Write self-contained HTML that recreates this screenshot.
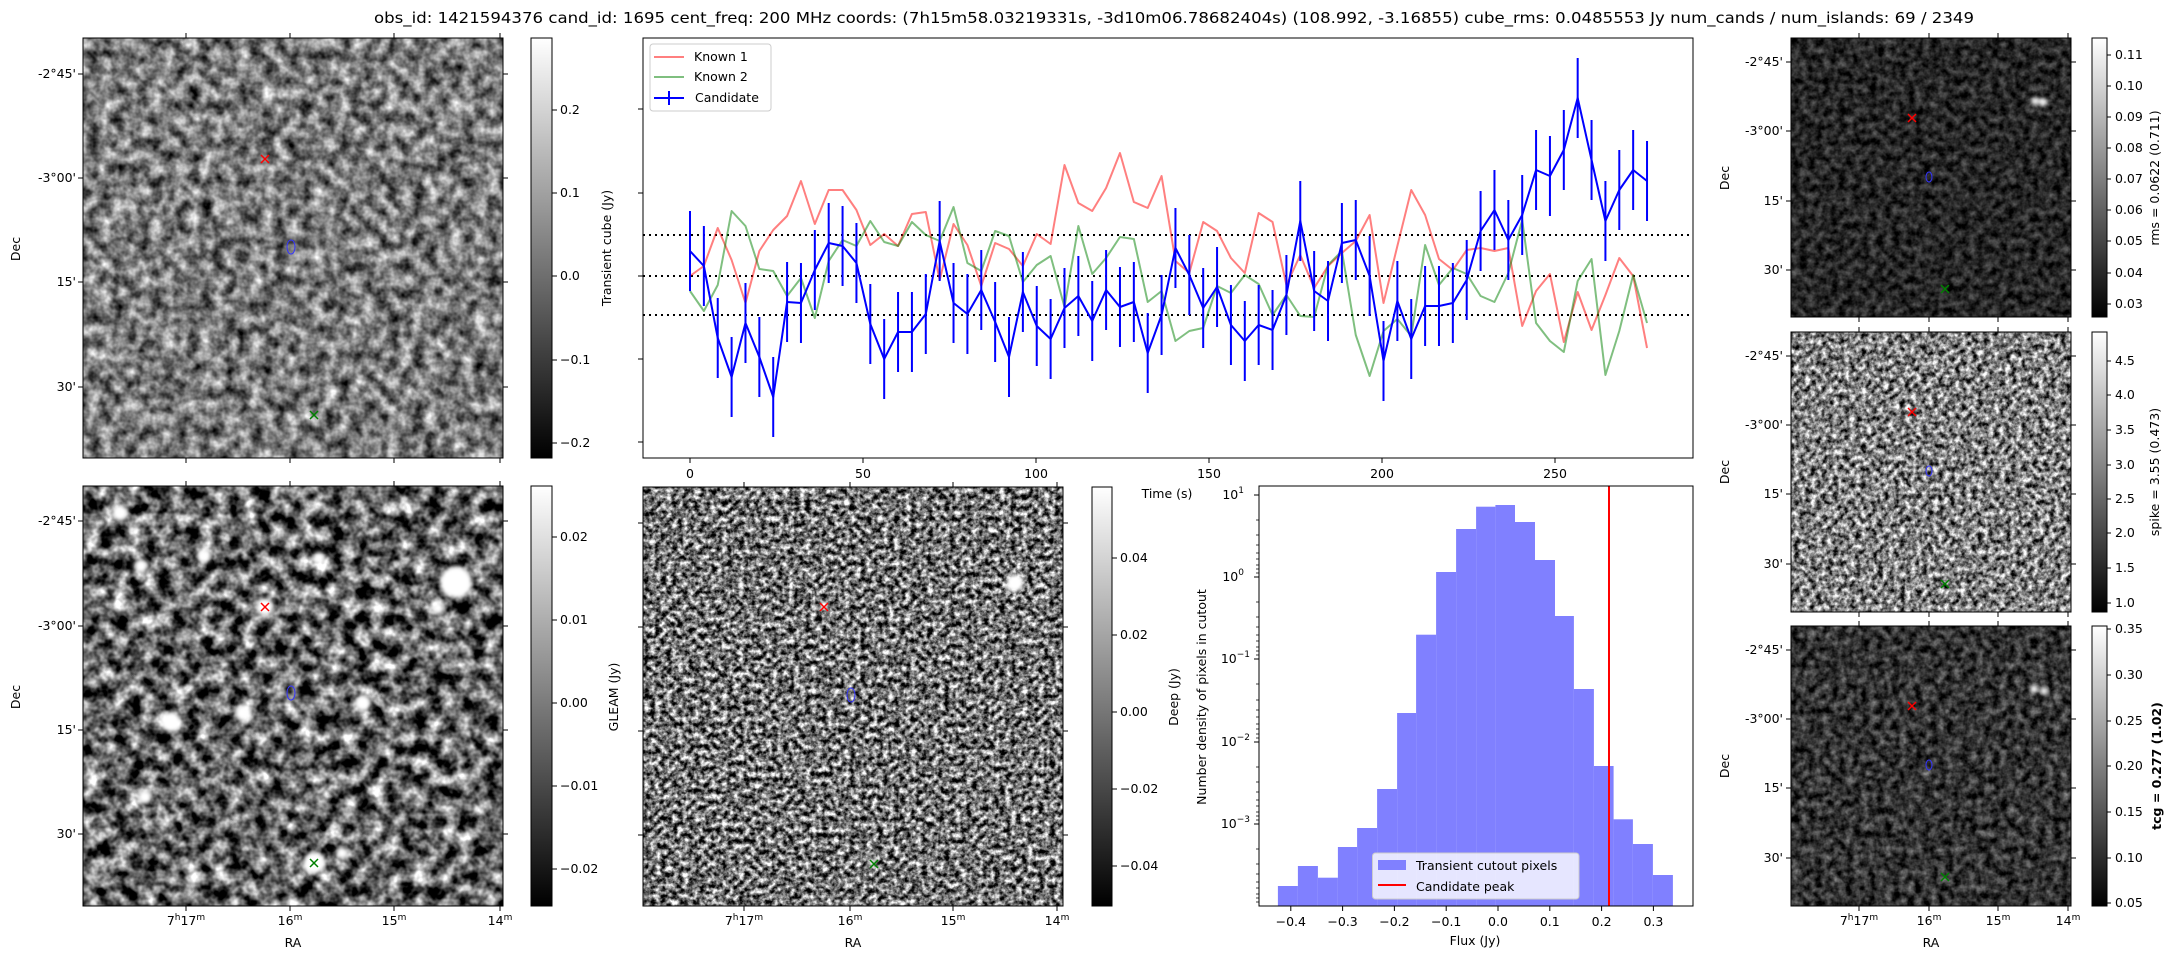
<!DOCTYPE html>
<html><head><meta charset="utf-8"><style>
html,body{margin:0;padding:0;background:#fff}
svg{display:block}
text{font-family:"DejaVu Sans","Liberation Sans",sans-serif;font-size:12.5px;fill:#000}
</style></head><body>
<svg width="2175" height="960" viewBox="0 0 2175 960" xmlns="http://www.w3.org/2000/svg">
<defs>
<filter id="n1" x="0" y="0" width="100%" height="100%" color-interpolation-filters="sRGB"><feTurbulence type="fractalNoise" baseFrequency="0.08" numOctaves="3" seed="3"/><feColorMatrix type="matrix" values="1.3 0 0 0 -0.17 1.3 0 0 0 -0.17 1.3 0 0 0 -0.17 0 0 0 0 1"/></filter>
<filter id="n2" x="0" y="0" width="100%" height="100%" color-interpolation-filters="sRGB"><feTurbulence type="fractalNoise" baseFrequency="0.07" numOctaves="3" seed="7"/><feColorMatrix type="matrix" values="2.0 0 0 0 -0.6 2.0 0 0 0 -0.6 2.0 0 0 0 -0.6 0 0 0 0 1"/></filter>
<filter id="n3" x="0" y="0" width="100%" height="100%" color-interpolation-filters="sRGB"><feTurbulence type="fractalNoise" baseFrequency="0.18" numOctaves="3" seed="11"/><feColorMatrix type="matrix" values="2.0 0 0 0 -0.55 2.0 0 0 0 -0.55 2.0 0 0 0 -0.55 0 0 0 0 1"/></filter>
<filter id="n4" x="0" y="0" width="100%" height="100%" color-interpolation-filters="sRGB"><feTurbulence type="fractalNoise" baseFrequency="0.13" numOctaves="3" seed="5"/><feColorMatrix type="matrix" values="0.6 0 0 0 -0.15 0.6 0 0 0 -0.15 0.6 0 0 0 -0.15 0 0 0 0 1"/></filter>
<filter id="n5" x="0" y="0" width="100%" height="100%" color-interpolation-filters="sRGB"><feTurbulence type="fractalNoise" baseFrequency="0.18" numOctaves="3" seed="9"/><feColorMatrix type="matrix" values="1.8 0 0 0 -0.4 1.8 0 0 0 -0.4 1.8 0 0 0 -0.4 0 0 0 0 1"/></filter>
<filter id="n6" x="0" y="0" width="100%" height="100%" color-interpolation-filters="sRGB"><feTurbulence type="fractalNoise" baseFrequency="0.13" numOctaves="3" seed="13"/><feColorMatrix type="matrix" values="0.8 0 0 0 -0.2 0.8 0 0 0 -0.2 0.8 0 0 0 -0.2 0 0 0 0 1"/></filter>
<filter id="bl" x="-1" y="-1" width="3" height="3"><feGaussianBlur stdDeviation="2"/></filter>
<linearGradient id="cb" x1="0" y1="1" x2="0" y2="0"><stop offset="0" stop-color="#000"/><stop offset="1" stop-color="#fff"/></linearGradient>
</defs>

<text x="1174" y="23" text-anchor="middle" style="font-size:15px" textLength="1600" lengthAdjust="spacingAndGlyphs">obs_id: 1421594376 cand_id: 1695 cent_freq: 200 MHz coords: (7h15m58.03219331s, -3d10m06.78682404s) (108.992, -3.16855) cube_rms: 0.0485553 Jy num_cands / num_islands: 69 / 2349</text>

<!-- TOP LEFT IMAGE -->
<rect x="83" y="38" width="420" height="420" filter="url(#n1)"/>
<rect x="83" y="38" width="420" height="420" fill="none" stroke="#000"/>
<g stroke="#000"><path d="M186,38v-5M290,38v-5M394,38v-5M500,38v-5M186,458v5M290,458v5M394,458v5M500,458v5M83,74h-5M83,178h-5M83,282h-5M83,387h-5M503,74h5M503,178h5M503,282h5M503,387h5"/></g>
<g text-anchor="end"><text x="76" y="78">-2°45'</text><text x="76" y="182">-3°00'</text><text x="76" y="286">15'</text><text x="76" y="391">30'</text></g>
<text transform="translate(20,249) rotate(-90)" text-anchor="middle">Dec</text>
<g stroke="red" stroke-width="1.5"><path d="M261,155l8,8M269,155l-8,8"/></g>
<ellipse cx="291" cy="247" rx="4" ry="7" fill="none" stroke="#33f"/>
<g stroke="green" stroke-width="1.5"><path d="M310,411l8,8M318,411l-8,8"/></g>
<rect x="531" y="38" width="21" height="420" fill="url(#cb)" stroke="#000"/>
<g stroke="#000"><path d="M552,110h5M552,193h5M552,276h5M552,360h5M552,443h5"/></g>
<g><text x="560" y="114">0.2</text><text x="560" y="197">0.1</text><text x="560" y="280">0.0</text><text x="560" y="364">−0.1</text><text x="560" y="447">−0.2</text></g>
<text transform="translate(611,248) rotate(-90)" text-anchor="middle">Transient cube (Jy)</text>

<!-- BOTTOM LEFT IMAGE -->
<rect x="83" y="486" width="420" height="420" filter="url(#n2)"/>
<g fill="#fff" filter="url(#bl)">
<circle cx="456" cy="582" r="16"/><circle cx="265" cy="607" r="9"/><circle cx="314" cy="863" r="11"/><circle cx="171" cy="722" r="10"/><circle cx="243" cy="713" r="8"/><circle cx="145" cy="797" r="7"/><circle cx="204" cy="556" r="7"/><circle cx="141" cy="566" r="7"/><circle cx="319" cy="558" r="6"/><circle cx="120" cy="513" r="8"/><circle cx="438" cy="608" r="6"/><circle cx="363" cy="703" r="8"/><circle cx="342" cy="853" r="6"/></g>
<rect x="83" y="486" width="420" height="420" fill="none" stroke="#000"/>
<g stroke="#000"><path d="M186,486v-5M290,486v-5M394,486v-5M500,486v-5M186,906v5M290,906v5M394,906v5M500,906v5M83,521h-5M83,626h-5M83,730h-5M83,834h-5M503,521h5M503,626h5M503,730h5M503,834h5"/></g>
<g text-anchor="end"><text x="76" y="525">-2°45'</text><text x="76" y="630">-3°00'</text><text x="76" y="734">15'</text><text x="76" y="838">30'</text></g>
<text transform="translate(20,697) rotate(-90)" text-anchor="middle">Dec</text>
<g text-anchor="middle"><text x="186" y="925">7<tspan dy="-5" style="font-size:9px">h</tspan><tspan dy="5">17</tspan><tspan dy="-5" style="font-size:9px">m</tspan></text><text x="290" y="925">16<tspan dy="-5" style="font-size:9px">m</tspan></text><text x="394" y="925">15<tspan dy="-5" style="font-size:9px">m</tspan></text><text x="500" y="925">14<tspan dy="-5" style="font-size:9px">m</tspan></text><text x="293" y="947">RA</text></g>
<g stroke="red" stroke-width="1.5"><path d="M261,603l8,8M269,603l-8,8"/></g>
<ellipse cx="291" cy="693" rx="4" ry="7" fill="none" stroke="#33f"/>
<g stroke="green" stroke-width="1.5"><path d="M310,859l8,8M318,859l-8,8"/></g>
<rect x="531" y="486" width="21" height="420" fill="url(#cb)" stroke="#000"/>
<g stroke="#000"><path d="M552,537h5M552,620h5M552,703h5M552,786h5M552,869h5"/></g>
<g><text x="560" y="541">0.02</text><text x="560" y="624">0.01</text><text x="560" y="707">0.00</text><text x="560" y="790">−0.01</text><text x="560" y="873">−0.02</text></g>
<text transform="translate(618,697) rotate(-90)" text-anchor="middle">GLEAM (Jy)</text>

<!-- MIDDLE IMAGE -->
<rect x="643" y="487" width="420" height="419" filter="url(#n3)"/>
<g fill="#fff" filter="url(#bl)"><circle cx="1015" cy="583" r="9"/><circle cx="824" cy="605" r="4"/><circle cx="872" cy="862" r="4"/></g>
<rect x="643" y="487" width="420" height="419" fill="none" stroke="#000"/>
<g stroke="#000"><path d="M744,487v-5M850,487v-5M953,487v-5M1057,487v-5M744,906v5M850,906v5M953,906v5M1057,906v5M643,523h-5M643,627h-5M643,731h-5M643,835h-5M1063,523h5M1063,627h5M1063,731h5M1063,835h5"/></g>
<g text-anchor="middle"><text x="744" y="925">7<tspan dy="-5" style="font-size:9px">h</tspan><tspan dy="5">17</tspan><tspan dy="-5" style="font-size:9px">m</tspan></text><text x="850" y="925">16<tspan dy="-5" style="font-size:9px">m</tspan></text><text x="953" y="925">15<tspan dy="-5" style="font-size:9px">m</tspan></text><text x="1057" y="925">14<tspan dy="-5" style="font-size:9px">m</tspan></text><text x="853" y="947">RA</text></g>
<g stroke="red" stroke-width="1.5"><path d="M820,603l8,8M828,603l-8,8"/></g>
<ellipse cx="851" cy="695" rx="4" ry="7" fill="none" stroke="#33f"/>
<g stroke="green" stroke-width="1.5"><path d="M870,860l8,8M878,860l-8,8"/></g>
<rect x="1092" y="487" width="20" height="419" fill="url(#cb)" stroke="#000"/>
<g stroke="#000"><path d="M1112,558h5M1112,635h5M1112,712h5M1112,789h5M1112,866h5"/></g>
<g><text x="1120" y="562">0.04</text><text x="1120" y="639">0.02</text><text x="1120" y="716">0.00</text><text x="1120" y="793">−0.02</text><text x="1120" y="870">−0.04</text></g>

<!-- TIME SERIES -->
<rect x="643" y="38" width="1050" height="420" fill="#fff" stroke="#000"/>
<g stroke="#000"><path d="M690,458v5M863,458v5M1036,458v5M1209,458v5M1382,458v5M1555,458v5M643,109h-5M643,193h-5M643,276h-5M643,359h-5M643,442h-5"/></g>
<g text-anchor="middle"><text x="690" y="478">0</text><text x="863" y="478">50</text><text x="1036" y="478">100</text><text x="1209" y="478">150</text><text x="1382" y="478">200</text><text x="1555" y="478">250</text><text x="1167" y="498">Time (s)</text></g>
<g stroke="#000" stroke-width="2" stroke-dasharray="2,4"><path d="M643,235H1693M643,276H1693M643,315H1693"/></g>
<g transform="translate(690,0) scale(13.87,1)" fill="none" stroke-width="2" stroke-linejoin="round">
<polyline vector-effect="non-scaling-stroke" stroke="red" stroke-opacity="0.5" points="0,276 1,266 2,228 3,260 4,303 5,251 6,230 7,216 8,181 9,224 10,190 11,190 12,210 13,245 14,234 15,246 16,214 17,212 18,280 19,224 20,245 21,286 22,243 23,249 24,266 25,234 26,244 27,165 28,203 29,211 30,188 31,153 32,202 33,208 34,176 35,261 36,273 37,222 38,231 39,258 40,273 41,213 42,222 43,285 44,255 45,288 46,266 47,253 48,241 49,215 50,303 51,246 52,190 53,215 54,259 55,270 56,250 57,248 58,251 59,248 60,326 61,291 62,274 63,342 64,292 65,330 66,295 67,258 68,276 69,348"/>
<polyline vector-effect="non-scaling-stroke" stroke="green" stroke-opacity="0.5" points="0,291 1,311 2,285 3,211 4,226 5,269 6,271 7,296 8,278 9,318 10,261 11,240 12,246 13,221 14,242 15,246 16,222 17,235 18,241 19,207 20,263 21,271 22,231 23,236 24,282 25,265 26,256 27,307 28,226 29,274 30,258 31,237 32,239 33,302 34,291 35,341 36,331 37,328 38,286 39,293 40,275 41,284 42,315 43,295 44,316 45,317 46,265 47,251 48,335 49,376 50,331 51,319 52,336 53,245 54,285 55,268 56,274 57,296 58,302 59,273 60,220 61,323 62,341 63,352 64,281 65,259 66,375 67,331 68,275 69,323"/>
<path vector-effect="non-scaling-stroke" stroke="#00f" d="M0,211V291M1,226V306M2,298V378M3,337V417M4,283V363M5,317V397M6,357V437M7,262V342M8,263V343M9,230V310M10,203V283M11,206V286M12,223V303M13,284V364M14,319V399M15,292V372M16,292V372M17,274V354M18,201V281M19,263V343M20,274V354M21,250V330M22,282V362M23,317V397M24,252V332M25,286V366M26,299V379M27,268V348M28,256V336M29,281V361M30,250V330M31,267V347M32,262V342M33,313V393M34,275V355M35,208V288M36,235V315M37,268V348M38,247V327M39,285V365M40,301V381M41,285V365M42,290V370M43,255V335M44,181V261M45,251V331M46,261V341M47,203V283M48,200V280M49,236V316M50,321V401M51,261V341M52,299V379M53,266V346M54,266V346M55,263V343M56,240V320M57,191V271M58,170V250M59,200V280M60,175V255M61,130V210M62,136V216M63,110V190M64,58V138M65,120V200M66,181V261M67,150V230M68,130V210M69,141V221"/>
<polyline vector-effect="non-scaling-stroke" stroke="#00f" points="0,251 1,266 2,338 3,377 4,323 5,357 6,397 7,302 8,303 9,270 10,243 11,246 12,263 13,324 14,359 15,332 16,332 17,314 18,241 19,303 20,314 21,290 22,322 23,357 24,292 25,326 26,339 27,308 28,296 29,321 30,290 31,307 32,302 33,353 34,315 35,248 36,275 37,308 38,287 39,325 40,341 41,325 42,330 43,295 44,221 45,291 46,301 47,243 48,240 49,276 50,361 51,301 52,339 53,306 54,306 55,303 56,280 57,231 58,210 59,240 60,215 61,170 62,176 63,150 64,98 65,160 66,221 67,190 68,170 69,181"/>
</g>
<rect x="650" y="44" width="121" height="67" rx="3" fill="#fff" fill-opacity="0.8" stroke="#ccc"/>
<g stroke-width="2"><path d="M654,57h30" stroke="red" stroke-opacity="0.5"/><path d="M654,77h30" stroke="green" stroke-opacity="0.5"/><path d="M654,98h30M669,91v14" stroke="#00f"/></g>
<g><text x="694" y="61">Known 1</text><text x="694" y="81">Known 2</text><text x="695" y="102">Candidate</text></g>

<!-- HISTOGRAM -->
<rect x="1259" y="486" width="434" height="420" fill="#fff"/>
<g fill="#8080ff">
<rect x="1277.9" y="886" width="20" height="20"/><rect x="1297.9" y="866" width="20" height="40"/><rect x="1317.9" y="877.7" width="20" height="28.3"/><rect x="1337.9" y="847" width="19.2" height="59"/><rect x="1357.1" y="828" width="20" height="78"/><rect x="1377.1" y="789" width="20" height="117"/><rect x="1397.1" y="713" width="19" height="193"/><rect x="1416.1" y="634.7" width="20" height="271.3"/><rect x="1436.1" y="572" width="20" height="334"/><rect x="1456.1" y="529" width="20" height="377"/><rect x="1476.1" y="506.7" width="19.3" height="399.3"/><rect x="1495.4" y="505" width="19.6" height="401"/><rect x="1515" y="522" width="20" height="384"/><rect x="1535" y="560" width="20" height="346"/><rect x="1555" y="616" width="18.9" height="290"/><rect x="1573.9" y="689" width="20" height="217"/><rect x="1593.9" y="766" width="19.7" height="140"/><rect x="1613.6" y="819.3" width="19.3" height="86.7"/><rect x="1632.9" y="844" width="20" height="62"/><rect x="1652.9" y="875" width="20" height="31"/>
</g>
<path d="M1609,486V906" stroke="red" stroke-width="2"/>
<rect x="1372.5" y="853" width="206.5" height="46" rx="3" fill="#fff" fill-opacity="0.8" stroke="#ccc"/>
<rect x="1378" y="860" width="28" height="10" fill="#8080ff"/>
<path d="M1378,885h28" stroke="red" stroke-width="2"/>
<text x="1416" y="870">Transient cutout pixels</text><text x="1416" y="891">Candidate peak</text>
<rect x="1259" y="486" width="434" height="420" fill="none" stroke="#000"/>
<g stroke="#000"><path d="M1290.8,906v5M1342.6,906v5M1394.4,906v5M1446.2,906v5M1498,906v5M1549.8,906v5M1601.6,906v5M1653.4,906v5M1259,495h-5M1259,577h-5M1259,659h-5M1259,742h-5M1259,824h-5"/>
<path stroke-width="0.8" d="M1259,520h-3M1259,535h-3M1259,545h-3M1259,553h-3M1259,559h-3M1259,565h-3M1259,569h-3M1259,573h-3M1259,602h-3M1259,617h-3M1259,627h-3M1259,635h-3M1259,641h-3M1259,647h-3M1259,651h-3M1259,655h-3M1259,684h-3M1259,700h-3M1259,710h-3M1259,717h-3M1259,724h-3M1259,729h-3M1259,734h-3M1259,738h-3M1259,767h-3M1259,782h-3M1259,792h-3M1259,800h-3M1259,806h-3M1259,812h-3M1259,816h-3M1259,820h-3M1259,849h-3M1259,864h-3M1259,874h-3M1259,882h-3M1259,888h-3M1259,894h-3M1259,898h-3M1259,902h-3"/></g>
<g text-anchor="middle"><text x="1290.8" y="926">−0.4</text><text x="1342.6" y="926">−0.3</text><text x="1394.4" y="926">−0.2</text><text x="1446.2" y="926">−0.1</text><text x="1498" y="926">0.0</text><text x="1549.8" y="926">0.1</text><text x="1601.6" y="926">0.2</text><text x="1653.4" y="926">0.3</text><text x="1475" y="945">Flux (Jy)</text></g>
<g text-anchor="end"><text x="1244" y="499">10<tspan dy="-6" style="font-size:9px">1</tspan></text><text x="1244" y="581">10<tspan dy="-6" style="font-size:9px">0</tspan></text><text x="1250" y="663">10<tspan dy="-6" style="font-size:9px">−1</tspan></text><text x="1250" y="746">10<tspan dy="-6" style="font-size:9px">−2</tspan></text><text x="1250" y="828">10<tspan dy="-6" style="font-size:9px">−3</tspan></text></g>
<text transform="translate(1206,697) rotate(-90)" text-anchor="middle">Number density of pixels in cutout</text>
<text transform="translate(1178,697) rotate(-90)" text-anchor="middle">Deep (Jy)</text>

<!-- RIGHT PANELS -->
<rect x="1791" y="38" width="280" height="279" filter="url(#n4)"/>
<g fill="#fff" filter="url(#bl)"><circle cx="2035" cy="101" r="4"/><circle cx="2043" cy="102" r="4"/></g>
<rect x="1791" y="38" width="280" height="279" fill="none" stroke="#000"/>
<rect x="1791" y="332" width="280" height="280" filter="url(#n5)"/>
<rect x="1791" y="332" width="280" height="280" fill="none" stroke="#000"/>
<rect x="1791" y="626" width="280" height="280" filter="url(#n6)"/>
<g fill="#fff" filter="url(#bl)"><circle cx="2034" cy="689" r="4"/><circle cx="2044" cy="691" r="4"/></g>
<rect x="1791" y="626" width="280" height="280" fill="none" stroke="#000"/>
<g stroke="#000"><path d="M1859,38v-5M1929,38v-5M1998,38v-5M2068,38v-5M1859,317v5M1929,317v5M1998,317v5M2068,317v5M1859,332v-5M1929,332v-5M1998,332v-5M2068,332v-5M1859,612v5M1929,612v5M1998,612v5M2068,612v5M1859,626v-5M1929,626v-5M1998,626v-5M2068,626v-5M1859,906v5M1929,906v5M1998,906v5M2068,906v5
M1791,62h-5M1791,131h-5M1791,201h-5M1791,270h-5M2071,62h5M2071,131h5M2071,201h5M2071,270h5
M1791,356h-5M1791,425h-5M1791,494h-5M1791,564h-5M2071,356h5M2071,425h5M2071,494h5M2071,564h5
M1791,650h-5M1791,719h-5M1791,788h-5M1791,858h-5M2071,650h5M2071,719h5M2071,788h5M2071,858h5"/></g>
<g text-anchor="end"><text x="1783" y="66">-2°45'</text><text x="1783" y="135">-3°00'</text><text x="1783" y="205">15'</text><text x="1783" y="274">30'</text>
<text x="1783" y="360">-2°45'</text><text x="1783" y="429">-3°00'</text><text x="1783" y="498">15'</text><text x="1783" y="568">30'</text>
<text x="1783" y="654">-2°45'</text><text x="1783" y="723">-3°00'</text><text x="1783" y="792">15'</text><text x="1783" y="862">30'</text></g>
<text transform="translate(1729,178) rotate(-90)" text-anchor="middle">Dec</text>
<text transform="translate(1729,472) rotate(-90)" text-anchor="middle">Dec</text>
<text transform="translate(1729,766) rotate(-90)" text-anchor="middle">Dec</text>
<g text-anchor="middle"><text x="1859" y="925">7<tspan dy="-5" style="font-size:9px">h</tspan><tspan dy="5">17</tspan><tspan dy="-5" style="font-size:9px">m</tspan></text><text x="1929" y="925">16<tspan dy="-5" style="font-size:9px">m</tspan></text><text x="1998" y="925">15<tspan dy="-5" style="font-size:9px">m</tspan></text><text x="2068" y="925">14<tspan dy="-5" style="font-size:9px">m</tspan></text><text x="1931" y="947">RA</text></g>
<g stroke="red" stroke-width="1.5"><path d="M1908,114l8,8M1916,114l-8,8M1908,408l8,8M1916,408l-8,8M1908,702l8,8M1916,702l-8,8"/></g>
<g fill="none" stroke="#33f"><ellipse cx="1929" cy="177" rx="3" ry="5"/><ellipse cx="1929" cy="471" rx="3" ry="5"/><ellipse cx="1929" cy="765" rx="3" ry="5"/></g>
<g stroke="green" stroke-width="1.5"><path d="M1941,285l8,8M1949,285l-8,8M1941,580l8,8M1949,580l-8,8M1941,873l8,8M1949,873l-8,8"/></g>
<rect x="2092" y="38" width="15" height="279" fill="url(#cb)" stroke="#000"/>
<rect x="2092" y="332" width="15" height="280" fill="url(#cb)" stroke="#000"/>
<rect x="2092" y="626" width="15" height="280" fill="url(#cb)" stroke="#000"/>
<g stroke="#000"><path d="M2107,55h4M2107,86h4M2107,117h4M2107,148h4M2107,179h4M2107,210h4M2107,241h4M2107,273h4M2107,304h4M2107,361h4M2107,395h4M2107,430h4M2107,465h4M2107,499h4M2107,533h4M2107,568h4M2107,603h4M2107,629h4M2107,675h4M2107,721h4M2107,766h4M2107,812h4M2107,858h4M2107,903h4"/></g>
<g><text x="2115" y="59">0.11</text><text x="2115" y="90">0.10</text><text x="2115" y="121">0.09</text><text x="2115" y="152">0.08</text><text x="2115" y="183">0.07</text><text x="2115" y="214">0.06</text><text x="2115" y="245">0.05</text><text x="2115" y="277">0.04</text><text x="2115" y="308">0.03</text>
<text x="2115" y="365">4.5</text><text x="2115" y="399">4.0</text><text x="2115" y="434">3.5</text><text x="2115" y="469">3.0</text><text x="2115" y="503">2.5</text><text x="2115" y="537">2.0</text><text x="2115" y="572">1.5</text><text x="2115" y="607">1.0</text>
<text x="2115" y="633">0.35</text><text x="2115" y="679">0.30</text><text x="2115" y="725">0.25</text><text x="2115" y="770">0.20</text><text x="2115" y="816">0.15</text><text x="2115" y="862">0.10</text><text x="2115" y="907">0.05</text></g>
<text transform="translate(2159,178) rotate(-90)" text-anchor="middle">rms = 0.0622 (0.711)</text>
<text transform="translate(2159,472) rotate(-90)" text-anchor="middle">spike = 3.55 (0.473)</text>
<text transform="translate(2161,766) rotate(-90)" text-anchor="middle" style="font-weight:bold">tcg = 0.277 (1.02)</text>
</svg>
</body></html>
